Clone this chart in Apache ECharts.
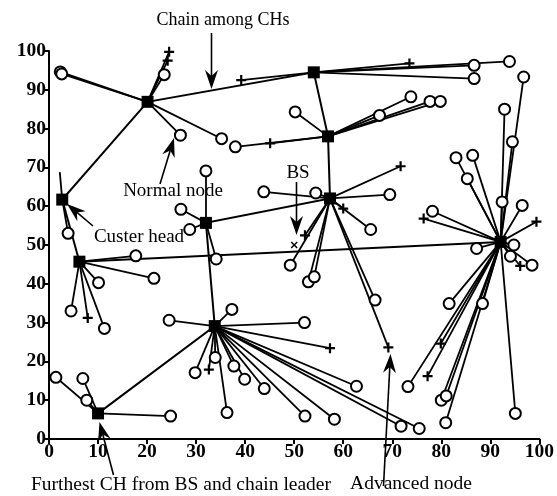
<!DOCTYPE html>
<html>
<head>
<meta charset="utf-8">
<script src="https://cdn.jsdelivr.net/npm/echarts@6/dist/echarts.min.js"></script>
<style>
html,body{margin:0;padding:0;background:#fff;}
#main{width:557px;height:496px;}
</style>
</head>
<body>
<div id="main"></div>
<script>
// ---------- DATA ----------
// Cluster heads [x, y]
const clusterHeads = [
  [20.1, 86.9], [2.7, 61.7], [32.0, 55.7], [54.0, 94.5], [56.9, 78.0],
  [57.3, 62.0], [92.1, 50.8], [6.2, 45.7], [33.8, 29.1], [10.0, 6.6]
];
// Chain among CHs (indices into clusterHeads), ending at the chain leader
const chainOrder = [6, 7, 1, 0, 3, 4, 5, 2, 8, 9];
// Base station
const baseStation = [50.0, 50.0];
// Normal nodes [x, y, clusterHeadIndex]
const normalNodes = [
  [2.3, 94.6, 0], [2.6, 94.1, 0], [23.5, 93.9, 0], [26.8, 78.3, 0], [35.2, 77.4, 0],
  [3.9, 53.0, 1],
  [32.0, 69.1, 2], [26.9, 59.2, 2], [28.7, 54.0, 2], [34.1, 46.4, 2],
  [86.7, 96.3, 3], [86.7, 92.9, 3], [93.9, 97.3, 3],
  [50.2, 84.3, 4], [73.8, 88.2, 4], [77.7, 87.0, 4], [79.8, 87.0, 4], [67.4, 83.4, 4], [38.0, 75.3, 4],
  [43.8, 63.7, 5], [54.4, 63.4, 5], [69.5, 63.0, 5], [65.6, 54.0, 5], [49.2, 44.8, 5],
  [52.9, 40.5, 5], [54.1, 41.8, 5], [66.5, 35.8, 5],
  [83.0, 72.5, 6], [86.4, 73.1, 6], [85.3, 67.1, 6], [78.2, 58.7, 6], [92.4, 61.1, 6],
  [96.5, 60.2, 6], [87.2, 49.1, 6], [94.8, 50.0, 6], [94.1, 47.1, 6], [98.5, 44.8, 6],
  [92.9, 85.0, 6], [96.8, 93.3, 6], [94.5, 76.6, 6], [81.6, 34.9, 6], [88.4, 34.9, 6],
  [73.2, 13.5, 6], [80.0, 10.0, 6], [81.0, 11.1, 6], [80.9, 4.2, 6], [95.1, 6.6, 6],
  [17.7, 47.2, 7], [21.4, 41.4, 7], [10.1, 40.3, 7], [4.5, 33.0, 7], [11.3, 28.5, 7],
  [24.5, 30.6, 8], [37.3, 33.4, 8], [52.1, 30.0, 8], [62.7, 13.6, 8], [71.8, 3.3, 8],
  [75.5, 2.7, 8], [58.2, 5.1, 8], [52.2, 5.9, 8], [43.9, 13.0, 8], [39.9, 15.4, 8],
  [37.7, 18.8, 8], [33.9, 21.0, 8], [29.8, 17.1, 8], [36.3, 6.8, 8],
  [1.4, 15.9, 9], [6.9, 15.6, 9], [7.7, 10.0, 9], [24.8, 5.9, 9]
];
// Advanced nodes [x, y, clusterHeadIndex]
const advancedNodes = [
  [24.5, 99.8, 0], [24.2, 97.5, 0],
  [73.5, 96.8, 3], [39.2, 92.5, 3],
  [45.1, 76.2, 4],
  [71.7, 70.3, 5], [60.0, 59.4, 5], [69.2, 23.6, 5], [52.2, 52.5, 5],
  [76.4, 56.8, 6], [99.4, 56.0, 6], [96.1, 44.6, 6], [77.2, 16.2, 6], [79.9, 24.6, 6],
  [7.9, 31.2, 7],
  [57.3, 23.4, 8], [32.6, 17.9, 8]
];
// Dead nodes (link only, no marker) [x, y, clusterHeadIndex]
const deadNodes = [[2.2, 68.8, 1]];
const axisTicks = [0, 10, 20, 30, 40, 50, 60, 70, 80, 90, 100];

// ---------- BUILD ----------
const links = [];
[normalNodes, advancedNodes, deadNodes].forEach(arr => arr.forEach(n => {
  links.push({ coords: [[n[0], n[1]], clusterHeads[n[2]]] });
}));
const chainCoords = chainOrder.map(i => clusterHeads[i]);

const FONT = '"Liberation Serif", "DejaVu Serif", serif';
const chart = echarts.init(document.getElementById('main'), null, { renderer: 'canvas' });

function arrow(tail, tip) {
  const dx = tip[0] - tail[0], dy = tip[1] - tail[1];
  const L = Math.sqrt(dx * dx + dy * dy);
  const ux = dx / L, uy = dy / L, px = -uy, py = ux;
  const len = 19, hw = 6.5, notch = 13;
  const base = [tip[0] - ux * len, tip[1] - uy * len];
  const nb = [tip[0] - ux * notch, tip[1] - uy * notch];
  return [
    { type: 'line', silent: true, z: 100,
      shape: { x1: tail[0], y1: tail[1], x2: nb[0], y2: nb[1] },
      style: { stroke: '#000', lineWidth: 1.6 } },
    { type: 'polygon', silent: true, z: 100,
      shape: { points: [tip, [base[0] + px * hw, base[1] + py * hw], nb, [base[0] - px * hw, base[1] - py * hw]] },
      style: { fill: '#000' } }
  ];
}
function label(text, cx, cy, size) {
  return { type: 'text', x: cx, y: cy, z: 100, silent: true,
    style: { text: text, font: (size || 19) + 'px ' + FONT, fill: '#000', align: 'center', verticalAlign: 'middle' } };
}

const graphics = [].concat(
  label('Chain among CHs', 223, 20, 18),
  arrow([211.5, 33], [211.5, 89]),
  label('Normal node', 173, 191),
  arrow([160, 184], [174, 138]),
  label('Custer head', 139, 237),
  arrow([93, 226], [67, 204]),
  label('BS', 298, 173),
  arrow([296.5, 182], [296.5, 235]),
  label('Furthest CH from BS and chain leader', 181, 485, 19.5),
  arrow([113.5, 475], [99.5, 422]),
  label('Advanced node', 411, 484, 19.5),
  arrow([383.5, 486], [390.5, 354])
);

const axisCommon = {
  type: 'value', min: 0, max: 100, interval: 10,
  axisLine: { show: true, onZero: false, lineStyle: { color: '#000', width: 2 } },
  axisTick: { show: true, inside: false, length: 5, lineStyle: { color: '#000', width: 2 } },
  splitLine: { show: false },
  axisLabel: {
    color: '#000', fontFamily: FONT, fontSize: 19.5, fontWeight: 'bold', margin: 3,
    formatter: v => axisTicks.indexOf(v) >= 0 ? String(v) : ''
  }
};

chart.setOption({
  animation: false,
  backgroundColor: '#fff',
  grid: { left: 49, right: 15, top: 51, bottom: 57, containLabel: false },
  xAxis: Object.assign({}, axisCommon),
  yAxis: Object.assign({}, axisCommon),
  graphic: graphics,
  series: [
    { type: 'lines', coordinateSystem: 'cartesian2d', z: 2, silent: true,
      lineStyle: { color: '#000', width: 1.8, opacity: 1 }, data: links },
    { type: 'lines', coordinateSystem: 'cartesian2d', polyline: true, z: 2, silent: true,
      lineStyle: { color: '#000', width: 2, opacity: 1 }, data: [{ coords: chainCoords }] },
    { type: 'scatter', z: 3, silent: true, symbol: 'circle', symbolSize: 11,
      itemStyle: { color: '#fff', borderColor: '#000', borderWidth: 2, opacity: 1 },
      data: normalNodes.map(n => [n[0], n[1]]) },
    { type: 'scatter', z: 4, silent: true,
      symbol: 'path://M3.9,0H6.1V3.9H10V6.1H6.1V10H3.9V6.1H0V3.9H3.9Z', symbolSize: 10,
      itemStyle: { color: '#000', opacity: 1 }, data: advancedNodes.map(n => [n[0], n[1]]) },
    { type: 'scatter', z: 5, silent: true, symbol: 'rect', symbolSize: 12,
      itemStyle: { color: '#000', opacity: 1 }, data: clusterHeads },
    { type: 'scatter', z: 5, silent: true,
      symbol: 'path://M1.5,0L5,3.5L8.5,0L10,1.5L6.5,5L10,8.5L8.5,10L5,6.5L1.5,10L0,8.5L3.5,5L0,1.5Z', symbolSize: 7,
      itemStyle: { color: '#000', opacity: 1 }, data: [baseStation] }
  ]
});
</script>
</body>
</html>
